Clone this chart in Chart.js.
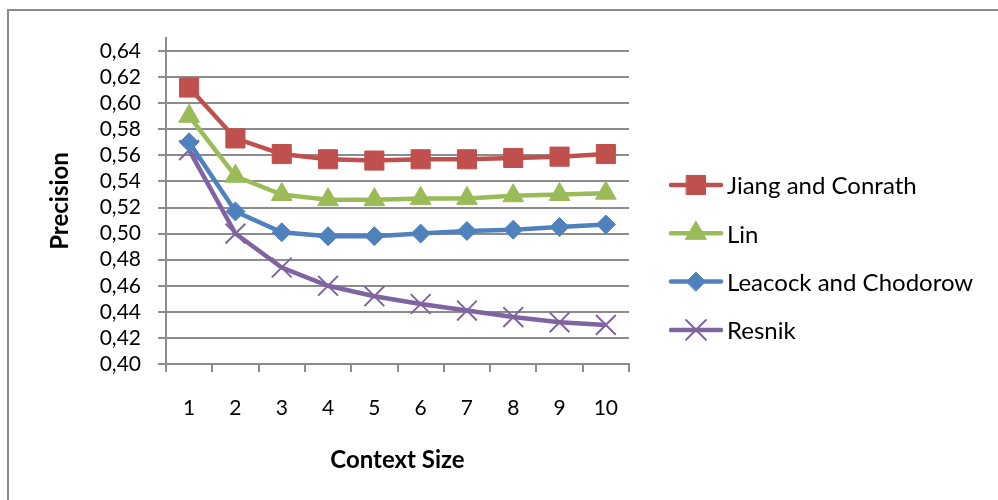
<!DOCTYPE html>
<html>
<head>
<meta charset="utf-8">
<script src="https://cdn.jsdelivr.net/npm/chart.js@4.4.1/dist/chart.umd.min.js"></script>
<style>
  html, body { margin: 0; padding: 0; background: #fff; }
  body { width: 998px; height: 500px; overflow: hidden; position: relative; }
  #frame { position: absolute; left: 7px; top: 9px; width: 1100px; height: 600px;
           border-left: 2px solid #8a8a8a; border-top: 2px solid #8a8a8a; }
  #chart { position: absolute; left: 0; top: 0; }
</style>
</head>
<body>
<div id="frame"></div>
<canvas id="chart" width="998" height="500"></canvas>
<script>
// Precision by context size for four WordNet similarity measures
const contextSizes = ['1', '2', '3', '4', '5', '6', '7', '8', '9', '10'];
const jiangConrath = [0.612, 0.573, 0.561, 0.557, 0.556, 0.557, 0.557, 0.558, 0.559, 0.561];
const lin = [0.590, 0.544, 0.530, 0.526, 0.526, 0.527, 0.527, 0.529, 0.530, 0.531];
const leacockChodorow = [0.570, 0.517, 0.501, 0.498, 0.498, 0.500, 0.502, 0.503, 0.505, 0.507];
const resnik = [0.564, 0.500, 0.474, 0.460, 0.452, 0.446, 0.441, 0.436, 0.432, 0.430];
const seriesNames = ['Jiang and Conrath', 'Lin', 'Leacock and Chodorow', 'Resnik'];
const yTickMin = 0.40;
const yTickMax = 0.65;
const yTickStep = 0.02;

const GRID = '#8c8c8c';
Chart.defaults.font.family = 'Lato';
Chart.defaults.color = '#000';

function series(label, data, color, style, radius, pbw) {
  return {
    label, data,
    borderColor: color, backgroundColor: color,
    borderWidth: 4.5,
    pointStyle: style, pointRadius: radius, pointHoverRadius: radius,
    pointBackgroundColor: color, pointBorderColor: color, pointBorderWidth: pbw,
    tension: 0, fill: false
  };
}

// Legend on the right: a short line with the series marker, then the name
const sideLegend = {
  id: 'sideLegend',
  afterDraw(chart) {
    const ctx = chart.ctx;
    chart.data.datasets.forEach((ds, i) => {
      const y = 185 + i * 48.3;
      ctx.save();
      ctx.strokeStyle = ds.borderColor;
      ctx.lineWidth = ds.borderWidth;
      ctx.lineCap = 'round';
      ctx.beginPath();
      ctx.moveTo(671, y);
      ctx.lineTo(721, y);
      ctx.stroke();
      ctx.fillStyle = ds.pointBackgroundColor;
      ctx.strokeStyle = ds.pointBorderColor;
      ctx.lineWidth = ds.pointBorderWidth;
      Chart.helpers.drawPoint(ctx, {
        pointStyle: ds.pointStyle, radius: ds.pointRadius,
        borderWidth: ds.pointBorderWidth, rotation: 0
      }, 696, y);
      ctx.fillStyle = '#000';
      ctx.font = '24px Lato';
      ctx.textBaseline = 'middle';
      ctx.textAlign = 'left';
      ctx.fillText(ds.label, 727, y + 1.5);
      ctx.restore();
    });
  }
};

new Chart(document.getElementById('chart'), {
  type: 'line',
  data: {
    labels: contextSizes,
    datasets: [
      series(seriesNames[0], jiangConrath, '#C0504D', 'rect', 13.5, 1),
      series(seriesNames[1], lin, '#9BBB59', 'triangle', 12, 1),
      series(seriesNames[2], leacockChodorow, '#4F81BD', 'rectRot', 9.5, 1),
      series(seriesNames[3], resnik, '#8064A2', 'crossRot', 14, 2)
    ]
  },
  options: {
    responsive: false,
    animation: false,
    events: [],
    layout: { padding: { top: 38, right: 369, bottom: 0, left: 0 } },
    plugins: { legend: { display: false }, tooltip: { enabled: false } },
    scales: {
      x: {
        offset: true,
        grid: { offset: true, drawOnChartArea: false, drawTicks: true, tickLength: 8, color: GRID, lineWidth: 2 },
        border: { display: true, color: GRID, width: 2 },
        ticks: { font: { size: 21 }, padding: 24, maxRotation: 0, autoSkip: false },
        title: { display: true, text: 'Context Size', font: { size: 24, weight: 'bold' }, padding: { top: 0, bottom: 25 } },
        afterFit(scale) { scale.height = 136; }
      },
      y: {
        min: yTickMin,
        max: yTickMax,
        grid: { color: GRID, lineWidth: 2, tickLength: 8, drawTicks: true },
        border: { display: true, color: GRID, width: 2 },
        ticks: {
          stepSize: yTickStep,
          includeBounds: false,
          autoSkip: false,
          font: { size: 21 },
          padding: 17,
          callback: v => v.toFixed(2).replace('.', ',')
        },
        title: { display: true, text: 'Precision', font: { size: 24, weight: 'bold' }, padding: { top: 46, bottom: 0 } },
        afterFit(scale) { scale.width = 166; }
      }
    }
  },
  plugins: [sideLegend]
});
</script>
</body>
</html>
